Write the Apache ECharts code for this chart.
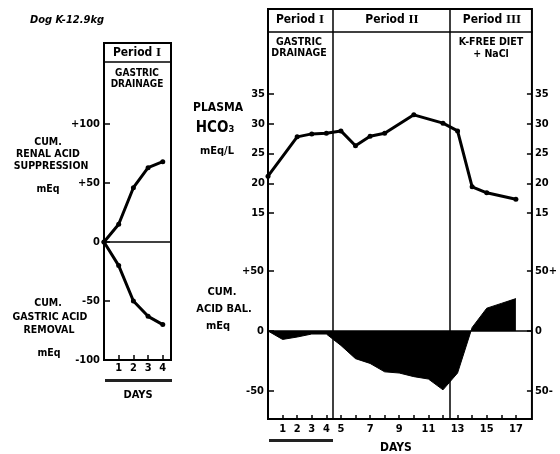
<!DOCTYPE html>
<html>
<head>
<meta charset="utf-8">
<script src="https://cdn.jsdelivr.net/npm/echarts@6/dist/echarts.min.js"></script>
<style>html,body{margin:0;padding:0;background:#fff}#c{width:560px;height:454px}</style>
</head>
<body>
<div id="c"></div>
<script>
// ---- data ----
const drainDays = [0, 1, 2, 3, 4];
const renalSuppression = [0, 15, 46, 63, 68];
const gastricRemoval = [0, -20, -50, -63, -70];
const hco3Days = [0, 2, 3, 4, 5, 6, 7, 8, 10, 12, 13, 14, 15, 17];
const hco3Values = [21.2, 27.8, 28.3, 28.4, 28.8, 26.3, 27.9, 28.4, 31.5, 30.1, 28.8, 19.4, 18.4, 17.3];
const balDays = [0, 1, 2, 3, 4, 5, 6, 7, 8, 9, 10, 11, 12, 13, 14, 15, 16, 17];
const balValues = [0, -7, -5, -2.5, -2.5, -12, -23, -27, -34, -35, -38, -40, -49, -35, 3, 19, 23, 27];
const periodBounds = [4.42, 12.45];
const leftTicks = [-100, -50, 0, 50, 100];
const hco3Ticks = [15, 20, 25, 30, 35];
const balTicks = [-50, 0, 50];
const leftDayTicks = [1, 2, 3, 4];
const dayTicks = [1, 2, 3, 4, 5, 6, 7, 8, 9, 10, 11, 12, 13, 14, 15, 16, 17];
const dayLabels = [1, 2, 3, 4, 5, 7, 9, 11, 13, 15, 17];

const F = '"Liberation Sans Narrow", "DejaVu Sans Condensed", "Liberation Sans", sans-serif';
const SERIF = '"Liberation Serif", "DejaVu Serif", serif';
const lbl = (extra) => Object.assign({color: '#000', fontFamily: F, fontWeight: 'bold', fontSize: 11}, extra);
const tick = (vals, len) => ({show: true, inside: true, length: len, customValues: vals, lineStyle: {color: '#000', width: 1.5}});
const noLine = {show: false, onZero: false};

function pairs(xs, ys) { return xs.map((x, i) => [x, ys[i]]); }

function txt(t, x, y, size, opts) {
  opts = opts || {};
  return {type: 'text', silent: true, style: {text: t, x: x, y: y, align: opts.align || 'center', verticalAlign: 'middle',
    font: (opts.style || '') + ' bold ' + size + 'px ' + (opts.family || F), fill: '#000'}};
}
function hline(x1, x2, y, w) { return {type: 'line', silent: true, shape: {x1: x1, y1: y, x2: x2, y2: y}, style: {stroke: '#000', lineWidth: w || 1.5}}; }
function periodText(x, y, num) {
  return {type: 'text', silent: true, style: {text: '{a|Period }{b|' + num + '}', x: x, y: y, align: 'center', verticalAlign: 'middle',
    rich: {a: {font: 'bold 12px ' + F, fill: '#000'}, b: {font: 'bold 13px ' + SERIF, fill: '#000'}}}};
}

const chart = echarts.init(document.getElementById('c'));
chart.setOption({
  animation: false,
  backgroundColor: '#fff',
  grid: [
    {left: 104, top: 43, width: 67, height: 317, show: true, borderColor: '#000', borderWidth: 2},
    {left: 268, top: 9, width: 266, height: 410, show: true, borderColor: '#000', borderWidth: 2}
  ],
  xAxis: [
    {gridIndex: 0, type: 'value', position: 'bottom', min: 0, max: 4.56, axisLine: noLine, splitLine: {show: false},
      axisTick: tick(leftDayTicks, 5), axisLabel: lbl({customValues: leftDayTicks, margin: 3})},
    {gridIndex: 1, type: 'value', position: 'bottom', min: 0, max: 18.1, axisLine: noLine, splitLine: {show: false},
      axisTick: tick(dayTicks, 4), axisLabel: lbl({customValues: dayLabels, margin: 5})}
  ],
  yAxis: [
    {gridIndex: 0, type: 'value', min: -100, max: 168.6, position: 'left', axisLine: noLine, splitLine: {show: false},
      axisTick: tick(leftTicks, 6), axisLabel: lbl({customValues: leftTicks, margin: 4, formatter: v => v > 0 ? '+' + v : String(v)})},
    {gridIndex: 1, type: 'value', min: -19.62, max: 49.29, position: 'left', axisLine: noLine, splitLine: {show: false},
      axisTick: tick(hco3Ticks, 6), axisLabel: lbl({customValues: hco3Ticks, margin: 3})},
    {gridIndex: 1, type: 'value', min: -19.62, max: 49.29, position: 'right', axisLine: noLine, splitLine: {show: false},
      axisTick: tick(hco3Ticks, 5), axisLabel: lbl({customValues: hco3Ticks, margin: 3})},
    {gridIndex: 1, type: 'value', min: -73.3, max: 268.3, position: 'left', axisLine: noLine, splitLine: {show: false},
      axisTick: tick(balTicks, 6), axisLabel: lbl({customValues: balTicks, margin: 4, formatter: v => v > 0 ? '+' + v : String(v)})},
    {gridIndex: 1, type: 'value', min: -73.3, max: 268.3, position: 'right', axisLine: noLine, splitLine: {show: false},
      axisTick: tick(balTicks, 5), axisLabel: lbl({customValues: balTicks, margin: 3, formatter: v => v > 0 ? v + '+' : (v < 0 ? (-v) + '-' : '0')})}
  ],
  series: [
    {type: 'line', xAxisIndex: 0, yAxisIndex: 0, data: pairs(drainDays, renalSuppression), color: '#000',
      lineStyle: {width: 3, color: '#000'}, symbol: 'circle', symbolSize: 5, itemStyle: {color: '#000'},
      markLine: {silent: true, symbol: 'none', label: {show: false}, lineStyle: {color: '#000', width: 1.5, type: 'solid'}, data: [{yAxis: 0}]}},
    {type: 'line', xAxisIndex: 0, yAxisIndex: 0, data: pairs(drainDays, gastricRemoval), color: '#000',
      lineStyle: {width: 3, color: '#000'}, symbol: 'circle', symbolSize: 5, itemStyle: {color: '#000'}},
    {type: 'line', xAxisIndex: 1, yAxisIndex: 1, data: pairs(hco3Days, hco3Values), color: '#000',
      lineStyle: {width: 3, color: '#000'}, symbol: 'circle', symbolSize: 5, itemStyle: {color: '#000'}, z: 5,
      markLine: {silent: true, symbol: 'none', label: {show: false}, lineStyle: {color: '#000', width: 1.5, type: 'solid'},
        data: periodBounds.map(b => ({xAxis: b}))}},
    {type: 'line', xAxisIndex: 1, yAxisIndex: 3, data: pairs(balDays, balValues), color: '#000',
      lineStyle: {width: 1, color: '#000'}, symbol: 'none', areaStyle: {color: '#000', opacity: 1, origin: 0},
      markLine: {silent: true, symbol: 'none', label: {show: false}, lineStyle: {color: '#000', width: 1.5, type: 'solid'}, data: [{yAxis: 0}]}}
  ],
  graphic: [
    txt('Dog K-12.9kg', 30, 20, 11, {align: 'left', style: 'italic'}),
    // left panel
    hline(104, 171, 62),
    periodText(137, 53, 'I'),
    txt('GASTRIC', 137, 73, 10),
    txt('DRAINAGE', 137, 84, 10),
    txt('CUM.', 48, 142, 10.5),
    txt('RENAL ACID', 48, 154, 10.5),
    txt('SUPPRESSION', 51, 166, 10.5),
    txt('mEq', 48, 189, 10.5),
    txt('CUM.', 48, 303, 10.5),
    txt('GASTRIC ACID', 50, 317, 10.5),
    txt('REMOVAL', 49, 330, 10.5),
    txt('mEq', 49, 353, 10.5),
    {type: 'rect', silent: true, shape: {x: 105, y: 379, width: 67, height: 3}, style: {fill: '#222'}},
    txt('DAYS', 138, 395, 11),
    // right panel
    hline(268, 533, 32),
    periodText(300, 20, 'I'),
    periodText(392, 20, 'II'),
    periodText(492, 20, 'III'),
    txt('GASTRIC', 299, 42, 10.5),
    txt('DRAINAGE', 299, 53, 10.5),
    txt('K-FREE DIET', 491, 42, 10.5),
    txt('+ NaCl', 491, 54, 10.5),
    txt('PLASMA', 218, 108, 12),
    txt('HCO\u2083', 215, 128, 15),
    txt('mEq/L', 217, 151, 11),
    txt('CUM.', 222, 292, 11),
    txt('ACID BAL.', 224, 309, 11),
    txt('mEq', 218, 326, 11),
    {type: 'rect', silent: true, shape: {x: 269, y: 439, width: 64, height: 3}, style: {fill: '#222'}},
    txt('DAYS', 396, 448, 12)
  ]
});
</script>
</body>
</html>
